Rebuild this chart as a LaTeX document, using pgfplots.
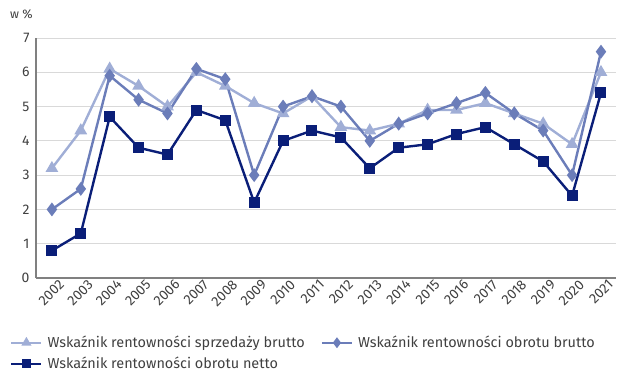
\documentclass[border=0pt]{standalone}
\usepackage{pgfplots}
\pgfplotsset{compat=1.18}
\usepackage{fontspec}
\setmainfont{Fira Sans}
\definecolor{cA}{RGB}{160,174,214}
\definecolor{cB}{RGB}{107,125,185}
\definecolor{cC}{RGB}{10,30,120}
\definecolor{txt}{RGB}{64,64,64}
\begin{document}
\begin{tikzpicture}[x=1bp,y=1bp]
\path[use as bounding box] (0,0) rectangle (640,379);
\begin{axis}[
  at={(36bp,101bp)}, anchor=south west,
  scale only axis, width=580bp, height=240bp,
  xmin=2001.45, xmax=2021.52, ymin=0, ymax=7,
  xtick={2002,...,2021}, ytick={0,...,7},
  /pgf/number format/assume math mode=true,
  x tick label style={/pgf/number format/1000 sep={}, rotate=45, anchor=north east, inner sep=0bp, yshift=-5bp, xshift=4bp},
  ticklabel style={font=\fontsize{14}{16}\selectfont, text=txt},
  y tick label style={xshift=-3bp},
  major tick length=0pt,
  axis x line*=bottom, axis y line*=left,
  axis line style={draw=black!50, line width=1.2bp, -},
  ymajorgrids, grid style={draw=black!15, line width=0.9bp},
  enlargelimits=false, clip=false,
  legend columns=2,
  legend style={at={(-26bp,-56bp)}, anchor=north west, draw=none, fill=none,
    font=\fontsize{14.5}{16}\selectfont, text=txt, row sep=4bp, inner sep=0pt,
    /tikz/every even column/.append style={column sep=14bp},
    /tikz/every odd column/.append style={column sep=3bp}},
  legend image code/.code={\draw[mark repeat=2,mark phase=2,mark size=3.5bp] plot coordinates {(0bp,0bp)(15bp,0bp)(30bp,0bp)};},
  legend cell align=left,
  every axis plot/.append style={line width=2.4bp},
]
\addplot[cA, mark=triangle*, mark size=5bp, mark options={solid}] coordinates {
(2002,3.2)(2003,4.3)(2004,6.1)(2005,5.6)(2006,5.0)(2007,6.0)(2008,5.6)(2009,5.1)(2010,4.8)(2011,5.3)
(2012,4.4)(2013,4.3)(2014,4.5)(2015,4.9)(2016,4.9)(2017,5.1)(2018,4.8)(2019,4.5)(2020,3.9)(2021,6.0)};
\addlegendentry{Wskaźnik rentowności sprzedaży brutto}
\addplot[cB, mark=diamond*, mark size=5bp] coordinates {
(2002,2.0)(2003,2.6)(2004,5.9)(2005,5.2)(2006,4.8)(2007,6.1)(2008,5.8)(2009,3.0)(2010,5.0)(2011,5.3)
(2012,5.0)(2013,4.0)(2014,4.5)(2015,4.8)(2016,5.1)(2017,5.4)(2018,4.8)(2019,4.3)(2020,3.0)(2021,6.6)};
\addlegendentry{Wskaźnik rentowności obrotu brutto}
\addplot[cC, mark=square*, mark size=4.3bp] coordinates {
(2002,0.8)(2003,1.3)(2004,4.7)(2005,3.8)(2006,3.6)(2007,4.9)(2008,4.6)(2009,2.2)(2010,4.0)(2011,4.3)
(2012,4.1)(2013,3.2)(2014,3.8)(2015,3.9)(2016,4.2)(2017,4.4)(2018,3.9)(2019,3.4)(2020,2.4)(2021,5.4)};
\addlegendentry{Wskaźnik rentowności obrotu netto}
\end{axis}
\node[anchor=west, text=txt, font=\fontsize{12.5}{14}\selectfont, inner sep=0] at (10,365) {w \%};
\end{tikzpicture}
\end{document}
